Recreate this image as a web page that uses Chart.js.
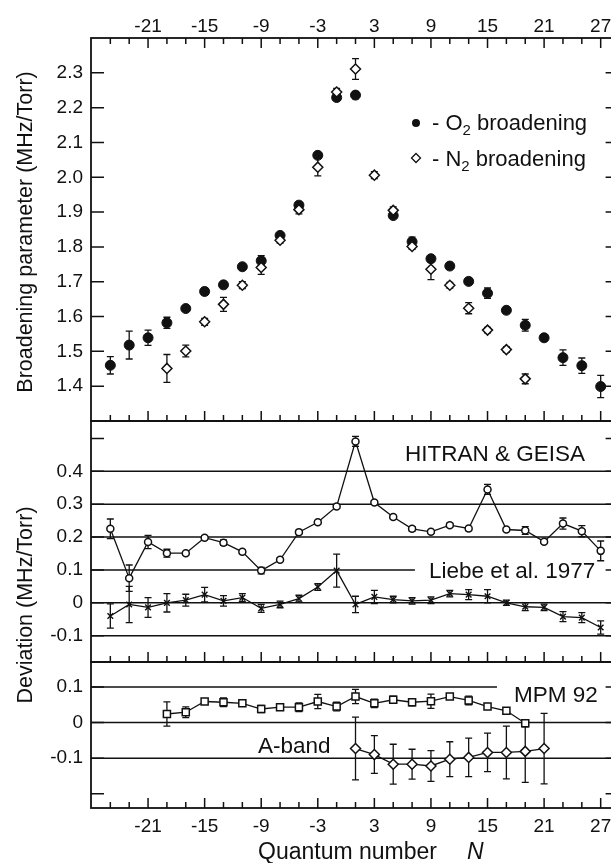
<!DOCTYPE html>
<html>
<head>
<meta charset="utf-8">
<script src="https://cdn.jsdelivr.net/npm/chart.js@4.4.1/dist/chart.umd.min.js"></script>
<style>
html,body{margin:0;padding:0;background:#fff;}
#wrap{position:relative;width:611px;height:863px;overflow:hidden;font-family:'Liberation Sans',Arial,sans-serif;color:#111;}
#wrap canvas{position:absolute;left:0;}
.ytitle{position:absolute;white-space:nowrap;font-size:21.5px;line-height:1;transform:translate(-50%,-50%) rotate(-90deg);}
</style>
</head>
<body>
<div id="wrap">
  <canvas id="topChart" width="630" height="423" style="top:0px"></canvas>
  <canvas id="midChart" width="630" height="245" style="top:419px"></canvas>
  <canvas id="botChart" width="630" height="203" style="top:660px"></canvas>
  <div class="ytitle" style="left:26px;top:232px">Broadening parameter (MHz/Torr)</div>
  <div class="ytitle" style="left:26px;top:605px">Deviation (MHz/Torr)</div>
</div>
<script>
const FONT = "'Liberation Sans', Arial, sans-serif";
const INK = '#111';

// broadening parameters (MHz/Torr) vs quantum number N
const nO2 = [-25,-23,-21,-19,-17,-15,-13,-11,-9,-7,-5,-3,-1,1,5,7,9,11,13,15,17,19,21,23,25,27];
const o2 = [1.460,1.518,1.539,1.582,1.623,1.672,1.691,1.743,1.760,1.833,1.920,2.063,2.229,2.236,1.890,1.815,1.766,1.745,1.701,1.667,1.618,1.575,1.539,1.482,1.459,1.399];
const o2Err = [0.025,0.04,0.022,0.016,0.006,0.01,0.006,0.007,0.015,0.008,0.006,0.008,0.008,0.01,0.006,0.013,0.008,0.006,0.006,0.015,0.008,0.017,0.008,0.022,0.022,0.032];

const nN2 = [-19,-17,-15,-13,-11,-9,-7,-5,-3,-1,1,3,5,7,9,11,13,15,17,19];
const n2 = [1.451,1.501,1.585,1.635,1.690,1.741,1.819,1.907,2.029,2.245,2.311,2.006,1.905,1.801,1.736,1.690,1.624,1.561,1.505,1.421];
const n2Err = [0.04,0.017,0.01,0.02,0.01,0.02,0.008,0.012,0.025,0.01,0.03,0.01,0.01,0.008,0.03,0.008,0.016,0.008,0.008,0.014];

// deviations from catalogue values
const nDev = [-25,-23,-21,-19,-17,-15,-13,-11,-9,-7,-5,-3,-1,1,3,5,7,9,11,13,15,17,19,21,23,25,27];
const hitran = [0.225,0.075,0.185,0.151,0.151,0.198,0.183,0.155,0.098,0.131,0.215,0.245,0.293,0.491,0.305,0.261,0.225,0.216,0.236,0.226,0.345,0.223,0.220,0.186,0.241,0.218,0.158];
const hitranErr = [0.03,0.04,0.02,0.012,0.005,0.006,0.008,0.006,0.01,0.005,0.005,0.005,0.005,0.015,0.005,0.005,0.007,0.005,0.006,0.006,0.015,0.005,0.012,0.005,0.017,0.017,0.03];
const liebe = [-0.040,-0.005,-0.014,0.000,0.008,0.025,0.006,0.016,-0.017,-0.005,0.013,0.048,0.098,-0.005,0.018,0.010,0.006,0.008,0.028,0.025,0.020,0.000,-0.012,-0.014,-0.042,-0.045,-0.075];
const liebeErr = [0.037,0.055,0.03,0.028,0.018,0.022,0.016,0.012,0.012,0.01,0.01,0.01,0.05,0.025,0.02,0.01,0.01,0.01,0.01,0.015,0.02,0.008,0.012,0.01,0.015,0.015,0.02];

const nMpm = [-19,-17,-15,-13,-11,-9,-7,-5,-3,-1,1,3,5,7,9,11,13,15,17,19];
const mpm = [0.024,0.029,0.059,0.057,0.054,0.038,0.043,0.043,0.059,0.045,0.073,0.054,0.064,0.057,0.060,0.073,0.062,0.045,0.033,-0.002];
const mpmErr = [0.034,0.015,0.007,0.012,0.008,0.01,0.006,0.012,0.02,0.012,0.02,0.012,0.01,0.01,0.02,0.007,0.012,0.007,0.007,0.01];

const nAband = [1,3,5,7,9,11,13,15,17,19,21];
const aband = [-0.073,-0.090,-0.117,-0.117,-0.122,-0.103,-0.098,-0.084,-0.084,-0.081,-0.073];
const abandErr = [0.088,0.053,0.056,0.042,0.043,0.049,0.054,0.054,0.074,0.087,0.099];

// axis ticks
const xLabels = [-21,-15,-9,-3,3,9,15,21,27];
const yLabelsTop = [1.4,1.5,1.6,1.7,1.8,1.9,2.0,2.1,2.2,2.3];
const yLabelsMid = [-0.1,0,0.1,0.2,0.3,0.4];
const yTicksMid = [-0.1,0,0.1,0.2,0.3,0.4,0.5];
const yLabelsBot = [-0.1,0,0.1];
const yTicksBot = [-0.2,-0.1,0,0.1];

const X_MIN = -27.05, X_MAX = 28.9;

const pts = (xs, ys) => xs.map((x, i) => ({x, y: ys[i]}));
const fmtDev = v => Math.abs(v) < 1e-9 ? '0' : v.toFixed(1);

// scales keep a fixed size and ask for no extra room around the plot
function fixBox(s, w, h) {
  if (w != null) s.width = w;
  if (h != null) s.height = h;
  s.paddingTop = s.paddingBottom = s.paddingLeft = s.paddingRight = 0;
}

function xScale(position, show, height) {
  return {
    type: 'linear', position, min: X_MIN, max: X_MAX, display: show,
    grid: {display: false, drawTicks: false}, border: {display: false},
    afterBuildTicks: s => { s.ticks = xLabels.map(v => ({value: v})); },
    afterFit: s => fixBox(s, null, height),
    ticks: {padding: position === 'top' ? 0 : 7, color: INK, autoSkip: false, maxRotation: 0,
      font: {family: FONT, size: 19}, callback: v => String(v)}
  };
}

function yScale(min, max, labels, fmt) {
  return {
    type: 'linear', position: 'left', min, max,
    grid: {display: false, drawTicks: false}, border: {display: false},
    afterBuildTicks: s => { s.ticks = labels.map(v => ({value: v})); },
    afterFit: s => fixBox(s, 91, null),
    ticks: {padding: 8, color: INK, font: {family: FONT, size: 19}, callback: fmt}
  };
}

function drawErrorBars(chart) {
  const ctx = chart.ctx, ys = chart.scales.y;
  chart.data.datasets.forEach((ds, i) => {
    if (!ds.errors) return;
    const meta = chart.getDatasetMeta(i);
    ctx.save();
    ctx.strokeStyle = INK;
    ctx.lineWidth = 1.3;
    meta.data.forEach((pt, j) => {
      const v = ds.data[j].y, e = ds.errors[j];
      const y1 = ys.getPixelForValue(v + e), y2 = ys.getPixelForValue(v - e);
      ctx.beginPath();
      ctx.moveTo(pt.x, y1); ctx.lineTo(pt.x, y2);
      ctx.moveTo(pt.x - 3.5, y1); ctx.lineTo(pt.x + 3.5, y1);
      ctx.moveTo(pt.x - 3.5, y2); ctx.lineTo(pt.x + 3.5, y2);
      ctx.stroke();
    });
    ctx.restore();
  });
}

function drawParts(ctx, parts, x, y) {
  parts.forEach(([t, size, dy, style]) => {
    ctx.font = (style || '') + ' ' + size + 'px ' + FONT;
    ctx.fillText(t, x, y + dy);
    x += ctx.measureText(t).width;
  });
}

// frame, inward ticks, grid lines and labels for one panel
function decor(cfg) {
  return {
    id: 'decor',
    beforeDatasetsDraw(chart) {
      const {ctx, chartArea: a, scales: {x, y}} = chart;
      ctx.save();
      ctx.strokeStyle = INK;
      ctx.lineWidth = 1.5;
      (cfg.grid || []).forEach(g => {
        const py = y.getPixelForValue(g.v);
        const x2 = g.toN != null ? x.getPixelForValue(g.toN) : a.right;
        ctx.beginPath(); ctx.moveTo(a.left, py); ctx.lineTo(x2, py); ctx.stroke();
      });
      ctx.restore();
      drawErrorBars(chart);
    },
    afterDatasetsDraw(chart) {
      const {ctx, chartArea: a, scales: {x, y}} = chart;
      ctx.save();
      ctx.strokeStyle = INK;
      ctx.fillStyle = INK;
      ctx.lineWidth = 1.5;
      ctx.beginPath();
      for (let n = -25; n <= 27; n += 2) {
        const px = x.getPixelForValue(n);
        const len = xLabels.includes(n) ? 10 : 6;
        ctx.moveTo(px, a.bottom); ctx.lineTo(px, a.bottom - len);
        if (cfg.topTicks) { ctx.moveTo(px, a.top); ctx.lineTo(px, a.top + len); }
      }
      cfg.yTicks.forEach(v => {
        const py = y.getPixelForValue(v);
        ctx.moveTo(a.left, py); ctx.lineTo(a.left + 13, py);
        ctx.moveTo(a.right, py); ctx.lineTo(a.right - 13, py);
      });
      ctx.stroke();
      ctx.lineWidth = 1.8;
      ctx.strokeRect(a.left, a.top, a.right - a.left, a.bottom - a.top);
      ctx.textBaseline = 'alphabetic';
      ctx.textAlign = 'left';
      (cfg.texts || []).forEach(t => drawParts(ctx, t.parts, t.x, t.y - cfg.top));
      if (cfg.legend) cfg.legend(ctx, cfg.top);
      ctx.restore();
    }
  };
}

function legendTop(ctx, top) {
  ctx.fillStyle = INK;
  ctx.beginPath(); ctx.arc(416, 123 - top, 4, 0, Math.PI * 2); ctx.fill();
  ctx.lineWidth = 1.3;
  ctx.beginPath();
  ctx.moveTo(416, 153.5 - top); ctx.lineTo(420.5, 158 - top);
  ctx.lineTo(416, 162.5 - top); ctx.lineTo(411.5, 158 - top); ctx.closePath();
  ctx.fillStyle = '#fff'; ctx.fill(); ctx.stroke();
  ctx.fillStyle = INK;
  drawParts(ctx, [['- O', 22, 0], ['2', 15, 5], [' broadening', 22, 0]], 432, 130 - top);
  drawParts(ctx, [['- N', 22, 0], ['2', 15, 5], [' broadening', 22, 0]], 432, 166 - top);
}

const common = {
  responsive: false, animation: false, devicePixelRatio: 1, events: [],
  plugins: {legend: {display: false}, tooltip: {enabled: false}}
};

// upper panel: O2 and N2 broadening
new Chart(document.getElementById('topChart'), {
  type: 'scatter',
  data: {datasets: [
    {label: 'N2 broadening', data: pts(nN2, n2), errors: n2Err, pointStyle: 'rectRot', pointRadius: 5,
     backgroundColor: '#fff', borderColor: INK, borderWidth: 1.5},
    {label: 'O2 broadening', data: pts(nO2, o2), errors: o2Err, pointStyle: 'circle', pointRadius: 5,
     backgroundColor: INK, borderColor: INK, borderWidth: 1}
  ]},
  options: Object.assign({}, common, {
    layout: {autoPadding: false, padding: {top: 0, bottom: 2, left: 0, right: 11.4}},
    scales: {x: xScale('top', true, 38), y: yScale(1.3, 2.4, yLabelsTop, v => v.toFixed(1))}
  }),
  plugins: [decor({top: 0, topTicks: true, yTicks: yLabelsTop, legend: legendTop})]
});

// middle panel: deviations from HITRAN/GEISA and Liebe et al.
new Chart(document.getElementById('midChart'), {
  type: 'scatter',
  data: {datasets: [
    {label: 'HITRAN & GEISA', data: pts(nDev, hitran), errors: hitranErr, showLine: true, borderColor: INK,
     borderWidth: 1.3, pointStyle: 'circle', pointRadius: 3.5, pointBorderWidth: 1.5, pointBackgroundColor: '#fff'},
    {label: 'Liebe et al. 1977', data: pts(nDev, liebe), errors: liebeErr, showLine: true, borderColor: INK,
     borderWidth: 1.3, pointStyle: 'crossRot', pointRadius: 4, pointBorderWidth: 1.4}
  ]},
  options: Object.assign({}, common, {
    layout: {autoPadding: false, padding: {top: 2, bottom: 2, left: 0, right: 11.4}},
    scales: {x: xScale('bottom', false, 0), y: yScale(-0.18, 0.553, yLabelsMid, fmtDev)}
  }),
  plugins: [decor({
    top: 419, yTicks: yTicksMid,
    grid: [{v: 0.4}, {v: 0.3}, {v: 0.2}, {v: 0.1, toN: 7.3}, {v: 0}, {v: -0.1}],
    texts: [
      {x: 405, y: 461, parts: [['HITRAN & GEISA', 22.5, 0]]},
      {x: 429, y: 578, parts: [['Liebe et al. 1977', 22.5, 0]]}
    ]
  })]
});

// lower panel: MPM 92 and A-band
new Chart(document.getElementById('botChart'), {
  type: 'scatter',
  data: {datasets: [
    {label: 'MPM 92', data: pts(nMpm, mpm), errors: mpmErr, showLine: true, borderColor: INK,
     borderWidth: 1.3, pointStyle: 'rect', pointRadius: 5, pointBorderWidth: 1.5, pointBackgroundColor: '#fff'},
    {label: 'A-band', data: pts(nAband, aband), errors: abandErr, showLine: true, borderColor: INK,
     borderWidth: 1.3, pointStyle: 'rectRot', pointRadius: 5, pointBorderWidth: 1.5, pointBackgroundColor: '#fff'}
  ]},
  options: Object.assign({}, common, {
    layout: {autoPadding: false, padding: {top: 2, bottom: 0, left: 0, right: 11.4}},
    scales: {x: xScale('bottom', true, 55), y: yScale(-0.24, 0.17, yLabelsBot, fmtDev)}
  }),
  plugins: [decor({
    top: 660, yTicks: yTicksBot,
    grid: [{v: 0.1, toN: 16.0}, {v: 0}, {v: -0.1}],
    texts: [
      {x: 514, y: 702, parts: [['MPM 92', 22.5, 0]]},
      {x: 258, y: 753, parts: [['A-band', 22.5, 0]]},
      {x: 258, y: 859, parts: [['Quantum number', 23, 0]]},
      {x: 467, y: 859, parts: [['N', 23, 0, 'italic']]}
    ]
  })]
});
</script>
</body>
</html>
